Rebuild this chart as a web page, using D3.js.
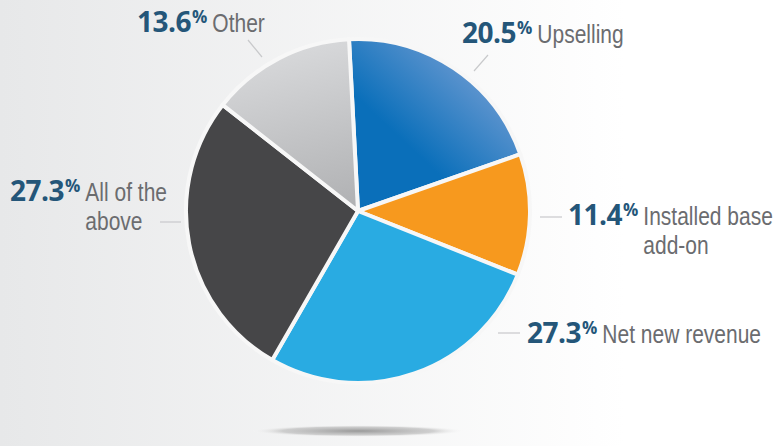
<!DOCTYPE html>
<html>
<head>
<meta charset="utf-8">
<script src="https://cdn.jsdelivr.net/npm/d3@7"></script>
<style>
  body { margin: 0; background: #fff; }
  svg { display: block; }
</style>
</head>
<body>
<svg id="chart" width="781" height="446"></svg>
<script>
// data (clockwise from 12 o'clock)
const categories = ["Upselling", "Installed base add-on", "Net new revenue", "All of the above", "Other"];
const values = [20.5, 11.4, 27.3, 27.3, 13.6];
const labelLines = [["Upselling"], ["Installed base", "add-on"], ["Net new revenue"], ["All of the", "above"], ["Other"]];
const sliceFills = ["url(#gradBlue)", "#f7991e", "#29abe2", "#464648", "url(#gradGray)"];

// where each label sits (percent x, baseline y, leader line)
const labelLayout = [
    {x: 462, y: 43, line: [488, 55, 474, 71]},
    {x: 568, y: 225, line: [540, 217, 562, 217]},
    {x: 527, y: 343, line: [498, 333, 520, 333]},
    {x: 10, y: 201, line: [160, 222, 181, 222]},
    {x: 137, y: 32, line: [248, 40, 262, 57]}
];

const width = 781, height = 446;
const cx = 358, cy = 211, radius = 172;
const nameScaleX = 0.84; // the label face is a condensed one
const svg = d3.select("#chart");
const defs = svg.append("defs");

// background fade, grey on the left to white
let bg = defs.append("linearGradient").attr("id", "gradBg")
    .attr("x1", 0).attr("y1", 0).attr("x2", 1).attr("y2", 0);
bg.append("stop").attr("offset", "0").attr("stop-color", "#e7e8e9");
bg.append("stop").attr("offset", "0.8").attr("stop-color", "#ffffff");

// slice gradients live in the pie group's coordinates (origin = pie centre)
let blue = defs.append("linearGradient").attr("id", "gradBlue")
    .attr("gradientUnits", "userSpaceOnUse")
    .attr("x1", 0).attr("y1", 0).attr("x2", 140).attr("y2", -150);
blue.append("stop").attr("offset", "0.4").attr("stop-color", "#0a6fba");
blue.append("stop").attr("offset", "1").attr("stop-color", "#78a0d5");

let grey = defs.append("linearGradient").attr("id", "gradGray")
    .attr("gradientUnits", "userSpaceOnUse")
    .attr("x1", 0).attr("y1", 0).attr("x2", -40).attr("y2", -165);
grey.append("stop").attr("offset", "0").attr("stop-color", "#afb0b2");
grey.append("stop").attr("offset", "1").attr("stop-color", "#d6d7d9");

let shadow = defs.append("radialGradient").attr("id", "gradShadow");
shadow.append("stop").attr("offset", "0").attr("stop-color", "#8f8f8f").attr("stop-opacity", 0.9);
shadow.append("stop").attr("offset", "0.7").attr("stop-color", "#b5b5b5").attr("stop-opacity", 0.6);
shadow.append("stop").attr("offset", "1").attr("stop-color", "#ffffff").attr("stop-opacity", 0);

svg.append("rect").attr("width", width).attr("height", height).attr("fill", "url(#gradBg)");

// shadow under the pie
svg.append("ellipse")
    .attr("cx", cx).attr("cy", 431)
    .attr("rx", 108).attr("ry", 6)
    .attr("fill", "url(#gradShadow)");

let startAngle = -3 * Math.PI / 180;
let pie = d3.pie().sort(null)
    .startAngle(startAngle)
    .endAngle(startAngle + 2 * Math.PI);
let arc = d3.arc().innerRadius(0).outerRadius(radius);
let arcs = pie(values);

let sliceG = svg.append("g").attr("transform", "translate(" + cx + "," + cy + ")");
sliceG.selectAll("path")
    .data(arcs)
    .enter()
    .append("path")
    .attr("d", arc)
    .attr("fill", (d, i) => sliceFills[i])
    .attr("stroke", "#f7f7f7")
    .attr("stroke-width", 4)
    .attr("stroke-linejoin", "round");

// leader lines
svg.append("g").selectAll("line")
    .data(labelLayout)
    .enter()
    .append("line")
    .attr("x1", d => d.line[0]).attr("y1", d => d.line[1])
    .attr("x2", d => d.line[2]).attr("y2", d => d.line[3])
    .attr("stroke", "#c8c9cb")
    .attr("stroke-width", 1.2);

// labels
let labelG = svg.append("g");
values.forEach(function (v, i) {
    let pos = labelLayout[i];
    let pct = labelG.append("text")
        .attr("x", pos.x).attr("y", pos.y)
        .attr("font-family", "'Open Sans', sans-serif")
        .attr("fill", "#245679");
    pct.append("tspan")
        .attr("font-weight", 700)
        .attr("font-size", 28)
        .attr("letter-spacing", -0.5)
        .text(v.toFixed(1));
    pct.append("tspan")
        .attr("font-weight", 700)
        .attr("font-size", 17)
        .attr("dx", 1)
        .attr("dy", -9)
        .text("%");
    let endX = pos.x + pct.node().getComputedTextLength();

    let name = labelG.append("g")
        .attr("transform", "translate(" + (endX + 6) + "," + pos.y + ") scale(" + nameScaleX + ",1)")
        .append("text")
        .attr("font-family", "'Liberation Sans', Arial, sans-serif")
        .attr("font-size", 25)
        .attr("fill", "#6b6c6f");
    labelLines[i].forEach(function (t, j) {
        name.append("tspan")
            .attr("x", 0)
            .attr("dy", j === 0 ? 0 : 29)
            .text(t);
    });
});
</script>
</body>
</html>
